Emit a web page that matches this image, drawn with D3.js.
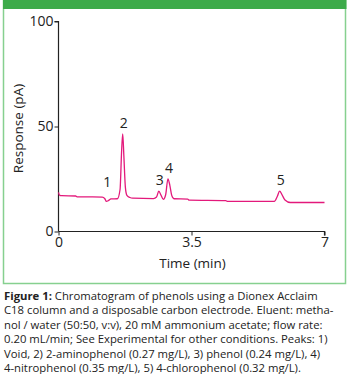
<!DOCTYPE html>
<html>
<head>
<meta charset="utf-8">
<script src="https://cdn.jsdelivr.net/npm/d3@7"></script>
<style>
html,body{margin:0;padding:0;background:#fff;}
svg{display:block;}
</style>
</head>
<body>
<svg id="chart" width="350" height="374"></svg>
<script>
// ---- data ----
const timeMin = [0, 0.03, 0.08, 0.45, 0.5, 1.15, 1.22, 1.26, 1.32, 1.38, 1.55, 1.62, 1.66, 1.69, 1.72, 1.76, 1.8, 1.88, 1.95, 2.5, 2.58, 2.64, 2.7, 2.76, 2.82, 2.88, 2.93, 2.98, 3.04, 3.4, 3.44, 4.4, 4.45, 5.68, 5.76, 5.82, 5.88, 5.96, 6.1, 6.5, 7.0];
const responsePA = [18.6, 17.2, 17.1, 16.9, 16.5, 16.4, 15.6, 14.3, 14.8, 15.5, 15.6, 20, 38, 46.5, 36, 21, 17.2, 16.2, 15.9, 15.7, 16.4, 19.2, 17.2, 15.3, 17.5, 25.1, 22, 17.2, 15.6, 15.4, 14.9, 14.7, 14.3, 14.3, 16.8, 19.2, 17.6, 15, 13.8, 13.8, 13.8];
const peakLabels = ["1", "2", "3", "4", "5"];
const peakTimes = [1.26, 1.69, 2.64, 2.88, 5.82];
const peakTops = [18.4, 46.5, 19.2, 25.1, 19.2];
const xTicks = [0, 3.5, 7];
const xTickLabels = ["0", "3.5", "7"];
const yTicks = [0, 50, 100];
const yTickLabels = ["0", "50", "100"];
const xLabel = "Time (min)";
const yLabel = "Response (pA)";
const captionBold = "Figure 1:";
const captionLines = [
  " Chromatogram of phenols using a Dionex Acclaim",
  "C18 column and a disposable carbon electrode. Eluent: metha-",
  "nol / water (50:50, v:v), 20 mM ammonium acetate; flow rate:",
  "0.20 mL/min; See Experimental for other conditions. Peaks: 1)",
  "Void, 2) 2-aminophenol (0.27 mg/L), 3) phenol (0.24 mg/L), 4)",
  "4-nitrophenol (0.35 mg/L), 5) 4-chlorophenol (0.32 mg/L)."
];

// ---- drawing ----
const svg = d3.select("#chart");
const font = "'Open Sans', 'DejaVu Sans', sans-serif";

// frame
svg.append("rect").attr("x", 3.5).attr("y", 0.5).attr("width", 342).attr("height", 283)
  .attr("fill", "#fff").attr("stroke", "#86d08f").attr("stroke-width", 1.5);
svg.append("rect").attr("x", 3).attr("y", 0).attr("width", 343.5).attr("height", 9).attr("fill", "#3dab4a");

const x = d3.scaleLinear().domain([0, 7]).range([58.5, 324.5]);
const y = d3.scaleLinear().domain([0, 100]).range([231.5, 21.5]);

const xAxis = d3.axisBottom(x).tickValues(xTicks).tickSize(4).tickPadding(2)
  .tickFormat((d, i) => xTickLabels[i]);
const yAxis = d3.axisLeft(y).tickValues(yTicks).tickSize(4).tickPadding(1)
  .tickFormat((d, i) => yTickLabels[i]);

const gx = svg.append("g").attr("transform", `translate(0,${y(0)})`).call(xAxis);
const gy = svg.append("g").attr("transform", `translate(${x(0)},0)`).call(yAxis);
[gx, gy].forEach(g => {
  g.select(".domain").attr("stroke", "#222").attr("stroke-width", 1.2);
  g.selectAll(".tick line").attr("stroke", "#222").attr("stroke-width", 1);
  g.selectAll(".tick text").attr("fill", "#222").style("font-family", font).style("font-size", "14px");
});
gy.select(".domain").attr("d", `M-4,${y(100)}H0V${y(0)}`);
gx.select(".domain").attr("d", `M${x(0)},0H${x(7)}V4`);

svg.append("text").attr("x", x(3.5) + 1).attr("y", 268).attr("text-anchor", "middle")
  .style("font-family", font).style("font-size", "13.5px").attr("fill", "#222").text(xLabel);
svg.append("text").attr("transform", `translate(23,${y(50) + 2}) rotate(-90)`).attr("text-anchor", "middle")
  .style("font-family", font).style("font-size", "13.5px").attr("fill", "#222").text(yLabel);

// trace
const data = timeMin.map((t, i) => [t, responsePA[i]]);
svg.append("path").datum(data)
  .attr("d", d3.line().x(d => x(d[0])).y(d => y(d[1])).curve(d3.curveMonotoneX))
  .attr("fill", "none").attr("stroke", "#e3197b").attr("stroke-width", 1.3);

// peak labels
svg.selectAll("text.peak").data(peakLabels).enter().append("text")
  .attr("class", "peak")
  .attr("x", (d, i) => x(peakTimes[i]) + 1)
  .attr("y", (d, i) => y(peakTops[i]) - 6)
  .attr("text-anchor", "middle")
  .style("font-family", font).style("font-size", "14px").attr("fill", "#222")
  .text(d => d);

// caption
const cap = svg.append("g").style("font-family", font).style("font-size", "11.3px").attr("fill", "#222");
captionLines.forEach((line, i) => {
  const t = cap.append("text").attr("x", 4).attr("y", 300 + i * 14.4);
  if (i === 0) t.append("tspan").style("font-weight", "bold").text(captionBold);
  t.append("tspan").text(line);
});
</script>
</body>
</html>
